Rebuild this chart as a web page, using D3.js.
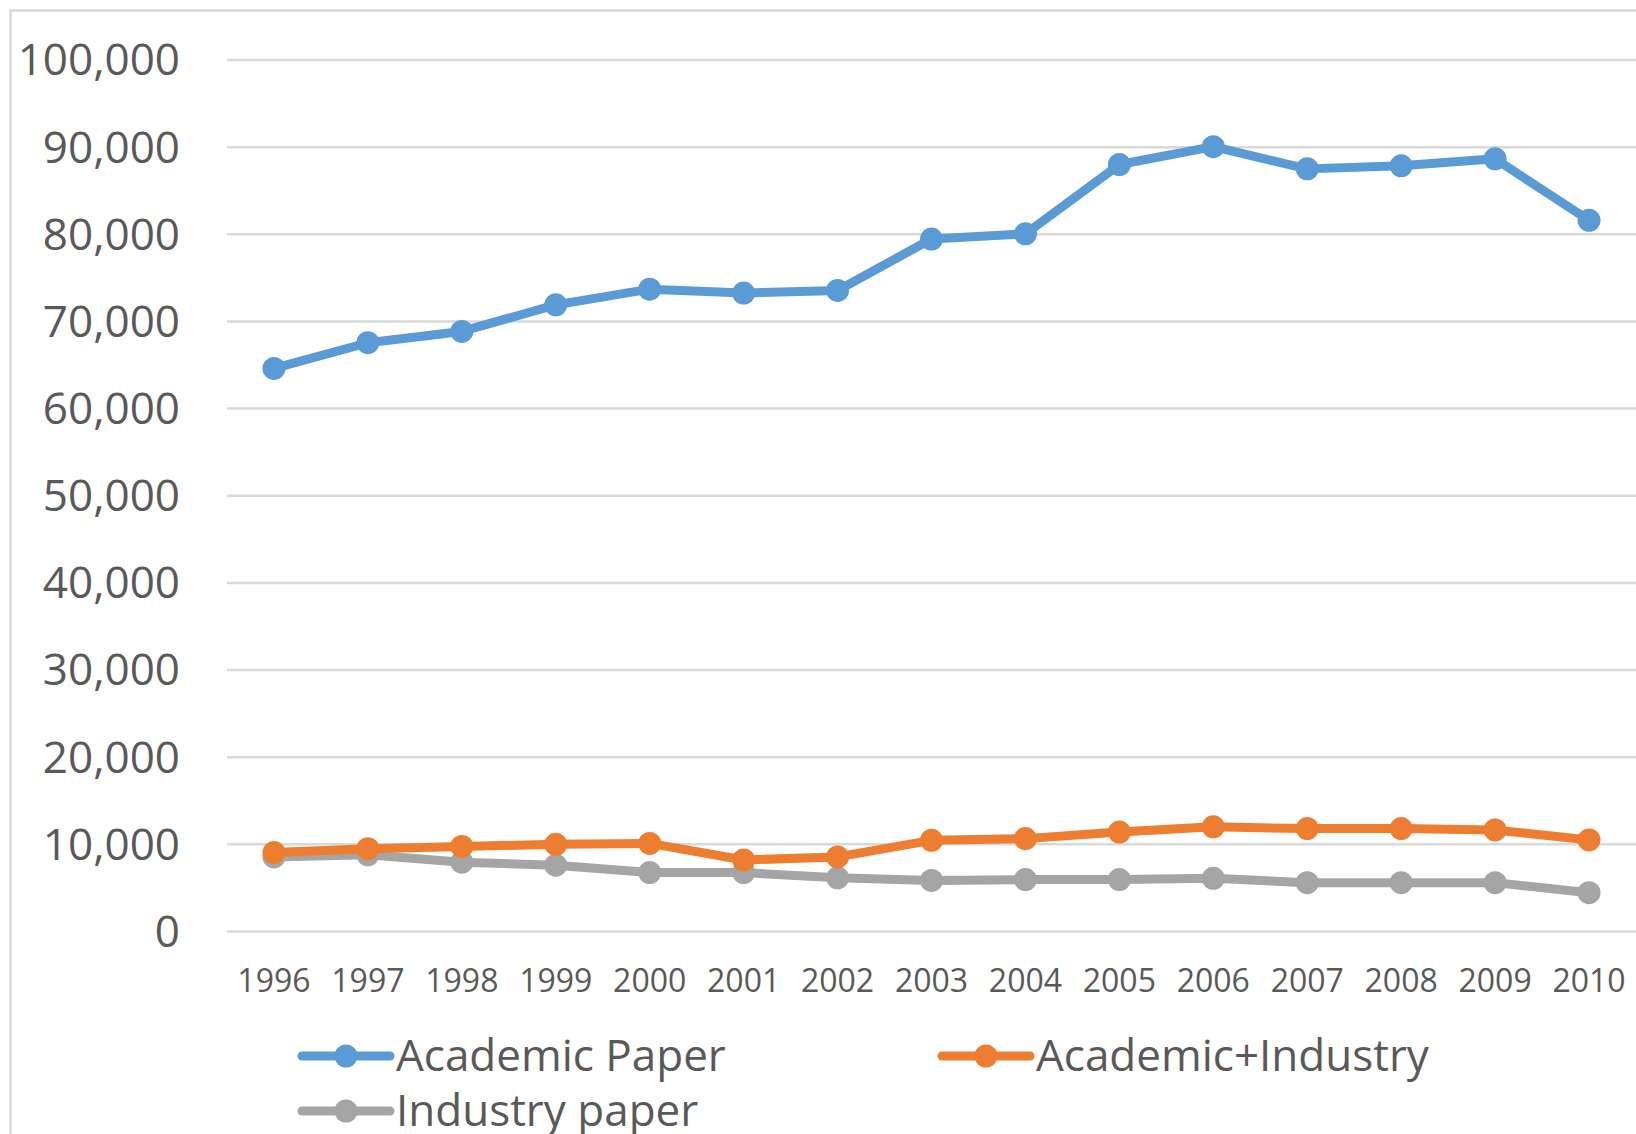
<!DOCTYPE html>
<meta charset="utf-8">
<style>
body { margin: 0; background: #fff; }
svg { display: block; }
text { font-family: "Open Sans", sans-serif; }
.grid line { stroke: #d9d9d9; stroke-width: 2.5px; }
.tick text { fill: #595959; }
.line { fill: none; stroke-width: 9px; stroke-linejoin: round; }
</style>
<body>
<script src="https://d3js.org/d3.v7.min.js"></script>
<script>

var years = ["1996","1997","1998","1999","2000","2001","2002","2003","2004","2005","2006","2007","2008","2009","2010"];
var academicPaper = [64550, 67500, 68800, 71850, 73650, 73200, 73500, 79400, 80000, 87950, 90000, 87450, 87800, 88600, 81550];
var academicIndustry = [9000, 9450, 9700, 9950, 10050, 8150, 8500, 10400, 10600, 11350, 11950, 11750, 11750, 11600, 10450];
var industryPaper = [8500, 8750, 7900, 7550, 6700, 6700, 6100, 5800, 5900, 5900, 6050, 5550, 5550, 5550, 4400];
var yTicks = [0, 10000, 20000, 30000, 40000, 50000, 60000, 70000, 80000, 90000, 100000];

var series = [
  {name: "Academic Paper", values: academicPaper, color: "#5b9bd5"},
  {name: "Academic+Industry", values: academicIndustry, color: "#ed7d31"},
  {name: "Industry paper", values: industryPaper, color: "#a5a5a5"}
];

var W = 1636, H = 1134;
var plotLeft = 227, plotRight = 1636, plotTop = 59.5, plotBottom = 931;

var svg = d3.select("body").append("svg")
    .attr("width", W)
    .attr("height", H);

// outer chart frame
svg.append("rect")
    .attr("x", 10.5).attr("y", 10.5)
    .attr("width", 1700).attr("height", 1300)
    .attr("fill", "#fff")
    .attr("stroke", "#d9d9d9")
    .attr("stroke-width", 2.5);

var x = d3.scaleBand().domain(years).range([plotLeft, plotRight]);
var y = d3.scaleLinear().domain([0, 100000]).range([plotBottom, plotTop]);

// gridlines
svg.append("g")
    .attr("class", "grid")
    .attr("transform", "translate(" + plotLeft + ",0)")
    .call(d3.axisLeft(y).tickValues(yTicks).tickSize(-(plotRight - plotLeft)).tickFormat(""))
    .call(function(g) { g.select(".domain").remove(); });

// y axis labels
svg.append("g")
    .attr("transform", "translate(180,0)")
    .call(d3.axisLeft(y).tickValues(yTicks).tickSize(0).tickPadding(0).tickFormat(d3.format(",")))
    .call(function(g) {
      g.attr("font-family", null);
      g.select(".domain").remove();
      g.selectAll("text").style("font-size", "44px").attr("dy", "0.35em");
    });

// x axis labels
svg.append("g")
    .attr("transform", "translate(0," + plotBottom + ")")
    .call(d3.axisBottom(x).tickSize(0).tickPadding(0))
    .call(function(g) {
      g.attr("font-family", null);
      g.select(".domain").remove();
      g.selectAll("text").style("font-size", "32px").attr("y", 50).attr("dy", "0.35em");
    });

var line = d3.line()
    .x(function(d, i) { return x(years[i]) + x.bandwidth() / 2; })
    .y(function(d) { return y(d); });

// draw bottom series first so the blue sits over the others
series.slice().reverse().forEach(function(s) {
  svg.append("path")
      .datum(s.values)
      .attr("class", "line")
      .attr("stroke", s.color)
      .attr("d", line);

  svg.selectAll(null)
      .data(s.values)
    .enter().append("circle")
      .attr("cx", function(d, i) { return x(years[i]) + x.bandwidth() / 2; })
      .attr("cy", function(d) { return y(d); })
      .attr("r", 11.5)
      .attr("fill", s.color);
});

// legend
var legendPos = [
  {x: 302, y: 1056},
  {x: 942, y: 1056},
  {x: 302, y: 1111}
];

series.forEach(function(s, i) {
  var g = svg.append("g")
      .attr("transform", "translate(" + legendPos[i].x + "," + legendPos[i].y + ")");
  g.append("line")
      .attr("x1", 0).attr("x2", 88)
      .attr("stroke", s.color)
      .attr("stroke-width", 9)
      .attr("stroke-linecap", "round");
  g.append("circle")
      .attr("cx", 44).attr("r", 11.5)
      .attr("fill", s.color);
  g.append("text")
      .attr("x", 94)
      .attr("dy", "0.35em")
      .attr("fill", "#595959")
      .style("font-size", "44px")
      .text(s.name);
});

</script>
</body>
